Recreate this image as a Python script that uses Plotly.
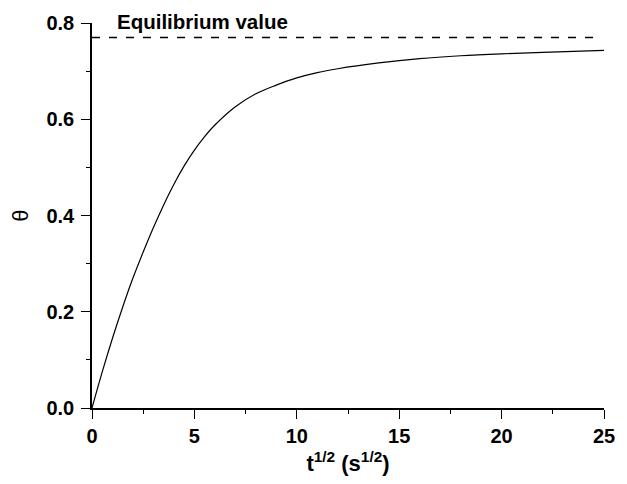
import plotly.graph_objects as go

# Data
t_sqrt = [0, 0.5, 1, 1.5, 2, 2.5, 3, 3.5, 4, 4.5, 5, 5.5, 6, 7, 8, 9, 10, 11, 12, 14, 16, 18, 20, 22, 25]
theta = [0, 0.075, 0.145, 0.21, 0.27, 0.324, 0.375, 0.422, 0.465, 0.503, 0.536, 0.564, 0.588,
         0.626, 0.653, 0.671, 0.686, 0.697, 0.705, 0.717, 0.726, 0.732, 0.736, 0.739, 0.743]
eq_x = [0, 24.75]
eq_theta = [0.77, 0.77]
x_ticks = [0, 5, 10, 15, 20, 25]
y_ticks = [0.0, 0.2, 0.4, 0.6, 0.8]

FONT = "Liberation Sans, Arial, sans-serif"

fig = go.Figure()
fig.add_trace(go.Scatter(x=eq_x, y=eq_theta, mode="lines",
                         line=dict(color="black", width=1.5, dash="8px,9px"),
                         showlegend=False, hoverinfo="skip"))
fig.add_trace(go.Scatter(x=t_sqrt, y=theta, mode="lines", line_shape="spline",
                         line=dict(color="black", width=1.2), showlegend=False))

fig.add_annotation(x=1.1, y=1.005, xref="x", yref="paper", text="Equilibrium value",
                   showarrow=False, xanchor="left", yanchor="middle",
                   font=dict(family=FONT, size=20.5, color="black", weight="bold"))

fig.update_xaxes(range=[0, 25], tickvals=x_ticks, ticks="outside", ticklen=9, tickwidth=1.2,
                 tickcolor="black", showline=True, linecolor="black", linewidth=1.5,
                 showgrid=False, zeroline=False,
                 tickfont=dict(family=FONT, size=20, color="black", weight="bold"),
                 minor=dict(dtick=2.5, tick0=0, ticks="outside", ticklen=4, tickcolor="black", tickwidth=1),
                 title=dict(text="t<sup>1/2</sup> (s<sup>1/2</sup>)", standoff=10,
                            font=dict(family=FONT, size=22, color="black", weight="bold")))
fig.update_yaxes(range=[0, 0.8], tickvals=y_ticks, tickformat=".1f", ticks="outside", ticklen=9,
                 tickwidth=1.2, tickcolor="black", showline=True, linecolor="black", linewidth=1.5,
                 showgrid=False, zeroline=False, ticklabelstandoff=3,
                 tickfont=dict(family=FONT, size=20, color="black", weight="bold"),
                 minor=dict(dtick=0.1, tick0=0, ticks="outside", ticklen=4, tickcolor="black", tickwidth=1),
                 title=dict(text="θ", standoff=12, font=dict(family=FONT, size=22, color="black")))

fig.update_layout(width=627, height=484, margin=dict(l=92, r=17, t=22, b=74),
                  plot_bgcolor="white", paper_bgcolor="white")

fig.write_html("out.html")
